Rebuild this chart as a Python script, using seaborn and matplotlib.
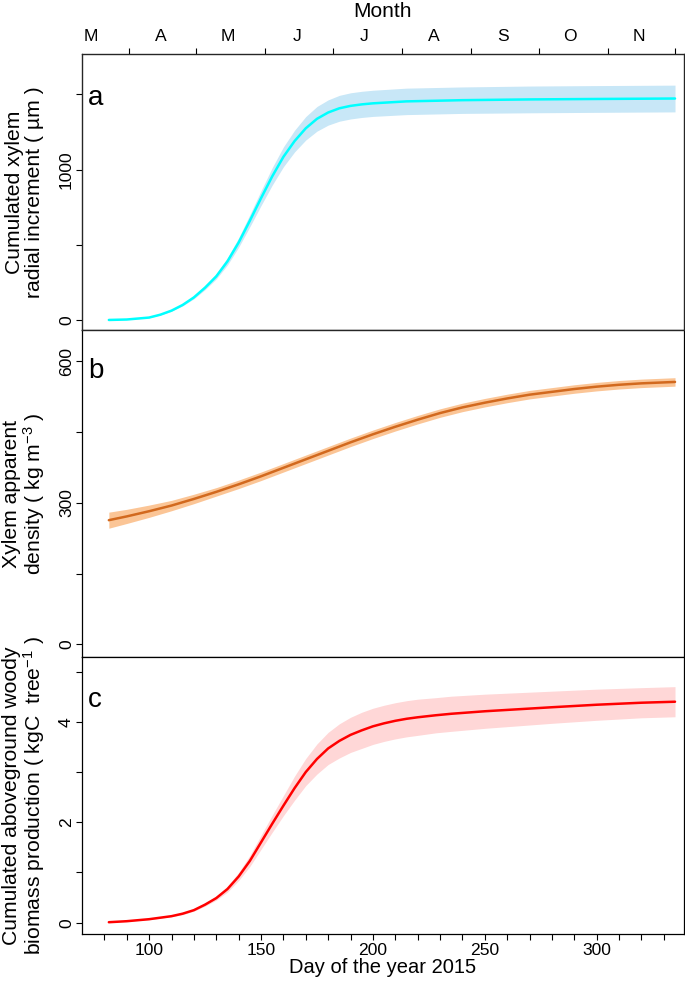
import matplotlib
matplotlib.use("Agg")
import matplotlib.pyplot as plt
import seaborn as sns
from matplotlib.ticker import FixedLocator

# dias del año
days_a = [82, 90, 100, 105, 110, 115, 120, 125, 130, 135, 140, 145, 150, 155,
          160, 165, 170, 175, 180, 185, 190, 195, 200, 215, 240, 270, 300, 335]
xylem_mean = [0, 3, 16, 35, 62, 100, 150, 215, 290, 390, 515, 660, 810, 955,
              1085, 1190, 1275, 1338, 1380, 1408, 1424, 1434, 1441, 1454, 1462, 1467, 1470, 1473]
xylem_low = [0, 3, 15, 33, 58, 94, 141, 202, 273, 366, 484, 620, 761, 897,
             1019, 1118, 1197, 1256, 1296, 1322, 1337, 1347, 1354, 1366, 1374, 1378, 1381, 1384]
xylem_high = [0, 3, 17, 37, 66, 106, 159, 228, 308, 414, 546, 700, 859, 1013,
              1151, 1262, 1353, 1420, 1464, 1494, 1511, 1521, 1528, 1542, 1550, 1556, 1559, 1562]

days_b = [82, 90, 100, 110, 120, 130, 140, 150, 160, 170, 180, 190, 200, 210,
          220, 230, 240, 250, 260, 270, 280, 290, 300, 310, 320, 335]
density_mean = [263, 271, 282, 294, 308, 323, 339, 356, 374, 392, 410, 428, 445, 461,
                476, 490, 502, 512, 521, 529, 535, 541, 546, 550, 553, 556]
density_low = [246, 256, 269, 283, 298, 314, 330, 347, 365, 383, 401, 419, 436, 452,
               467, 481, 493, 503, 512, 520, 526, 532, 537, 541, 544, 547]
density_high = [280, 286, 295, 305, 318, 332, 348, 365, 383, 401, 419, 437, 454, 470,
                485, 499, 511, 521, 530, 538, 544, 550, 555, 559, 562, 565]

days_c = [82, 90, 100, 110, 115, 120, 125, 130, 135, 140, 145, 150, 155, 160, 165,
          170, 175, 180, 185, 190, 195, 200, 205, 210, 215, 220, 228, 235, 250, 265,
          280, 300, 320, 335]
biomass_mean = [0.01, 0.03, 0.07, 0.13, 0.18, 0.25, 0.36, 0.49, 0.67, 0.92, 1.23, 1.60,
                1.97, 2.33, 2.68, 3.00, 3.26, 3.47, 3.62, 3.74, 3.83, 3.91, 3.97, 4.02,
                4.06, 4.09, 4.13, 4.16, 4.21, 4.25, 4.29, 4.34, 4.38, 4.40]
biomass_low = [0.01, 0.03, 0.06, 0.12, 0.16, 0.23, 0.33, 0.45, 0.61, 0.84, 1.12, 1.46,
               1.80, 2.13, 2.44, 2.73, 2.96, 3.15, 3.28, 3.39, 3.47, 3.55, 3.61, 3.66,
               3.70, 3.73, 3.78, 3.81, 3.87, 3.92, 3.97, 4.03, 4.08, 4.10]
biomass_high = [0.01, 0.03, 0.08, 0.14, 0.20, 0.27, 0.39, 0.53, 0.73, 1.00, 1.34, 1.74,
                2.14, 2.53, 2.92, 3.27, 3.56, 3.79, 3.96, 4.09, 4.19, 4.27, 4.33, 4.38,
                4.42, 4.45, 4.48, 4.51, 4.55, 4.58, 4.61, 4.65, 4.68, 4.70]

month_starts = [91, 121, 152, 182, 213, 244, 274, 305, 335]
month_mids = [74, 105, 135, 166, 196, 227, 258, 288, 319]
month_labels = ['M', 'A', 'M', 'J', 'J', 'A', 'S', 'O', 'N']

sns.set_style("ticks")
plt.rcParams['font.family'] = ['Liberation Sans', 'DejaVu Sans']
plt.rcParams['mathtext.fontset'] = 'custom'
plt.rcParams['mathtext.rm'] = 'Liberation Sans'
plt.rcParams['mathtext.it'] = 'Liberation Sans:italic'
plt.rcParams['text.color'] = 'black'
plt.rcParams['axes.labelcolor'] = 'black'
plt.rcParams['xtick.color'] = 'black'
plt.rcParams['ytick.color'] = 'black'
fs = 12.6
fs_lab = 15.2

fig = plt.figure(figsize=(6.85, 9.84), dpi=100)
left, width = 0.1197, 0.8788
axa = fig.add_axes([left, 0.6646, width, 0.2805])
axb = fig.add_axes([left, 0.3323, width, 0.3323])
axc = fig.add_axes([left, 0.0508, width, 0.2815])

paneles = [
    (axa, days_a, xylem_mean, xylem_low, xylem_high, '#00ffff', '#c8e7f7',
     'Cumulated xylem\nradial increment ( µm )', (-67, 1769), [0, 1000], [500, 1500], 'a', 0.815),
    (axb, days_b, density_mean, density_low, density_high, '#d2691e', '#fbc596',
     'Xylem apparent\ndensity ( kg m$^{-3}$ )', (-27, 666), [0, 300, 600], [150, 450], 'b', 0.853),
    (axc, days_c, biomass_mean, biomass_low, biomass_high, '#ff0000', '#ffd7d7',
     'Cumulated aboveground woody\nbiomass production ( kgC  tree$^{-1}$ )', (-0.225, 5.29),
     [0, 2, 4], [1, 3, 5], 'c', 0.82),
]

for ax, d, m, lo, hi, col, band, lab, ylim, maj, mnr, letra, ly in paneles:
    ax.fill_between(d, lo, hi, color=band, lw=0)
    sns.lineplot(x=d, y=m, color=col, lw=1.8, ax=ax)
    ax.lines[-1].set_solid_joinstyle('round')
    ax.set_xlim(70, 339)
    ax.set_ylim(*ylim)
    ax.yaxis.set_major_locator(FixedLocator(maj))
    ax.yaxis.set_minor_locator(FixedLocator(mnr))
    ax.tick_params(axis='y', which='both', length=4.3, width=0.8, direction='out',
                   labelsize=fs, labelrotation=90, pad=1.5)
    for lbl in ax.get_yticklabels():
        lbl.set_va('center')
    for s in ax.spines.values():
        s.set_visible(True)
        s.set_linewidth(0.9)
        s.set_color('black')
    ax.text(-0.0955, 0.5, lab, transform=ax.transAxes, rotation=90, ha='center',
            va='center', multialignment='center', fontsize=fs_lab, linespacing=1.05)
    ax.text(0.01, ly, letra, transform=ax.transAxes, fontsize=20, va='baseline')
    ax.set_xlabel('')
    ax.set_ylabel('')

for ax in (axa, axb):
    ax.tick_params(axis='x', which='both', bottom=False, labelbottom=False)

axc.set_xticks([100, 150, 200, 250, 300])
axc.set_xticks(list(range(80, 340, 10)), minor=True)
axc.tick_params(axis='x', which='both', length=4.3, width=0.8, direction='out',
                labelsize=fs, pad=2)
axc.set_xlabel('Day of the year 2015', fontsize=14.5, labelpad=0)

# eje superior con los meses
axt = axa.twiny()
axt.set_xlim(70, 339)
axt.set_xticks(month_starts)
axt.set_xticklabels([])
axt.set_xticks(month_mids, minor=True)
axt.set_xticklabels(month_labels, minor=True)
axt.tick_params(axis='x', which='major', length=4.3, width=0.8, direction='out')
axt.tick_params(axis='x', which='minor', length=0, labelsize=fs, pad=7.5)
axt.set_xlabel('Month', fontsize=15, labelpad=8)

fig.savefig('out.png', dpi=100)
